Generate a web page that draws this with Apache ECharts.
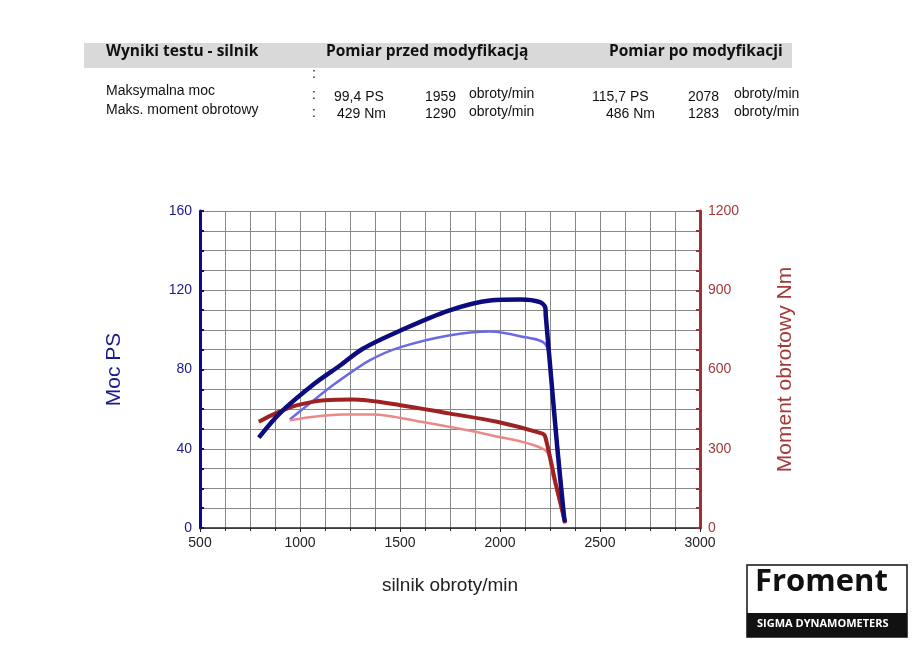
<!DOCTYPE html>
<html>
<head>
<meta charset="utf-8">
<script src="https://cdn.jsdelivr.net/npm/echarts@6/dist/echarts.min.js"></script>
</head>
<body style="margin:0;overflow:hidden;background:#fff">
<div id="main" style="width:915px;height:649px"></div>
<script>
// rpm / value pairs
var powerAfter = [[794,45.6],[900,58],[1073,72.9],[1200,82],[1314,90.5],[1503,99.7],[1744,109.7],[1950,114.8],[2105,115.3],[2200,114],[2226,111.4],[2229,107],[2260,71],[2286,41],[2320,6],[2325,3]];
var powerBefore = [[949,54.8],[1050,63],[1176,72.9],[1348,84.6],[1503,91.3],[1744,97.2],[1950,99.2],[2105,96.7],[2229,92.5],[2260,71],[2290,40],[2325,3]];
var torqueAfter = [[794,402],[880,435],[987,465],[1125,484],[1262,486],[1503,465],[1744,434],[1985,402],[2209,358],[2226,346],[2278,170],[2326,19]];
var torqueBefore = [[949,408],[1080,422],[1211,430],[1365,430],[1606,402],[1950,352],[2226,295],[2260,207],[2326,16]];

var chart = echarts.init(document.getElementById('main'));
var F = 'Liberation Sans, Arial, sans-serif';
var H = 'Open Sans, sans-serif';
function txt(x, y, s, font, fill) {
  return {type:'text', left:x, top:y, style:{text:s, font:font || ('14px ' + F), fill:fill || '#111'}};
}
var hb = 'bold 15.5px ' + H;
var g = [
  {type:'rect', shape:{x:84, y:43, width:708, height:25}, style:{fill:'#d9d9d9'}},
  txt(106, 44, 'Wyniki testu - silnik', hb),
  txt(326, 44, 'Pomiar przed modyfikacją', hb),
  txt(609, 44, 'Pomiar po modyfikacji', hb),
  txt(312, 67, ':'), txt(312, 88, ':'), txt(312, 106, ':'),
  txt(106, 84, 'Maksymalna moc'), txt(106, 103, 'Maks. moment obrotowy'),
  txt(334, 90, '99,4 PS'), txt(425, 90, '1959'), txt(469, 87, 'obroty/min'),
  txt(337, 107, '429 Nm'), txt(425, 107, '1290'), txt(469, 105, 'obroty/min'),
  txt(592, 90, '115,7 PS'), txt(688, 90, '2078'), txt(734, 87, 'obroty/min'),
  txt(606, 107, '486 Nm'), txt(688, 107, '1283'), txt(734, 105, 'obroty/min'),
  {type:'rect', shape:{x:747, y:565, width:160, height:72}, style:{fill:'#fff', stroke:'#111', lineWidth:1.5}},
  {type:'rect', shape:{x:747, y:613, width:160, height:24}, style:{fill:'#111'}},
  txt(755, 567, 'Froment', 'bold 31px ' + H),
  txt(757, 618, 'SIGMA DYNAMOMETERS', 'bold 11px ' + H, '#fff')
];
function ser(name, data, color, w, yi) {
  return {name:name, type:'line', data:data, yAxisIndex:yi, showSymbol:false, smooth:0.3,
    lineStyle:{color:color, width:w}, itemStyle:{color:color}, z: w > 3 ? 3 : 2};
}
function plain(v) { return String(v); }
chart.setOption({
  animation:false,
  graphic:g,
  grid:{left:200, right:215, top:211, bottom:121},
  xAxis:{type:'value', min:500, max:3000, interval:500, name:'silnik obroty/min', nameLocation:'middle', nameGap:48,
    nameTextStyle:{fontSize:19, fontFamily:F, color:'#222'},
    axisLine:{lineStyle:{color:'#222', width:1.5}}, axisTick:{length:4, lineStyle:{color:'#222'}},
    minorTick:{show:true, splitNumber:4, length:3, lineStyle:{color:'#222'}},
    axisLabel:{fontSize:14, fontFamily:F, color:'#222', formatter:plain},
    splitLine:{show:true, lineStyle:{color:'#888'}}, minorSplitLine:{show:true, lineStyle:{color:'#888'}}},
  yAxis:[
    {type:'value', min:0, max:160, interval:40, name:'Moc PS', nameLocation:'middle', nameGap:75,
      nameTextStyle:{fontSize:21, fontFamily:F, color:'#1a1a8a'},
      axisLine:{show:true, lineStyle:{color:'#0a0a90', width:3}},
      axisTick:{show:true, inside:true, length:4, lineStyle:{color:'#0a0a90', width:2}},
      minorTick:{show:true, splitNumber:4, length:4, lineStyle:{color:'#0a0a90', width:2}},
      axisLabel:{fontSize:14, fontFamily:F, color:'#1a1a8a', formatter:plain},
      splitLine:{show:true, lineStyle:{color:'#888'}}, minorSplitLine:{show:true, lineStyle:{color:'#888'}}},
    {type:'value', min:0, max:1200, interval:300, name:'Moment obrotowy Nm', nameLocation:'middle', nameGap:75,
      nameTextStyle:{fontSize:21, fontFamily:F, color:'#a33a3a'},
      axisLine:{show:true, lineStyle:{color:'#a33030', width:3}},
      axisTick:{show:true, inside:true, length:4, lineStyle:{color:'#a33030', width:2}},
      minorTick:{show:true, splitNumber:4, length:4, lineStyle:{color:'#a33030', width:2}},
      axisLabel:{fontSize:14, fontFamily:F, color:'#a33a3a', formatter:plain},
      splitLine:{show:false}}
  ],
  series:[
    ser('przed moc', powerBefore, '#6a6ae6', 2.5, 0),
    ser('przed moment', torqueBefore, '#e88a8a', 2.5, 1),
    ser('po moment', torqueAfter, '#9e2222', 4, 1),
    ser('po moc', powerAfter, '#0c0c7e', 4.5, 0)
  ]
});
</script>
</body>
</html>
